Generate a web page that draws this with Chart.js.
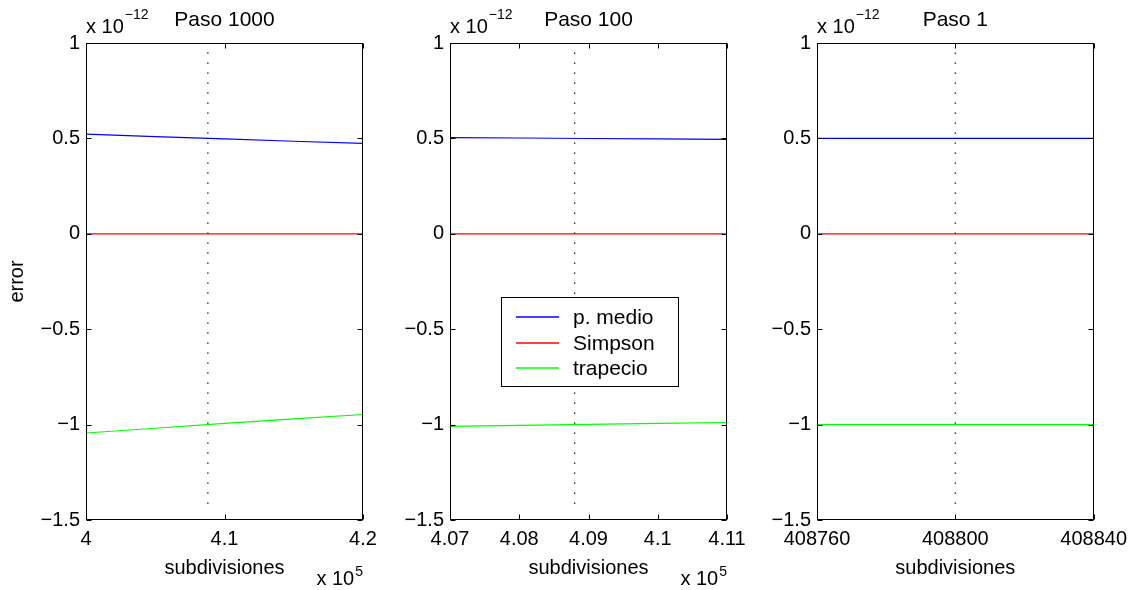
<!DOCTYPE html>
<html lang="es">
<head>
<meta charset="UTF-8">
<title>Error por subdivisiones</title>
<script src="https://cdn.jsdelivr.net/npm/chart.js"></script>
<style>
  body { margin: 0; background: #fff; }
  #fig { position: relative; width: 1134px; height: 590px; }
  #fig canvas { position: absolute; top: 0; }
</style>
</head>
<body>
<div id="fig">
  <canvas id="p1" width="403" height="590" style="left:0px"></canvas>
  <canvas id="p2" width="403" height="590" style="left:364px"></canvas>
  <canvas id="p3" width="403" height="590" style="left:731px"></canvas>
</div>
<script>
// datos (error en unidades de 1e-12)
const titulos = ["Paso 1000", "Paso 100", "Paso 1"];
const series = ["p. medio", "Simpson", "trapecio"];
const colores = ["#0000ff", "#ff0000", "#00ff00"];

const subdiv1 = [400000, 405000, 410000, 415000, 420000];
const medio1 = [0.522, 0.509, 0.497, 0.485, 0.474];
const simpson1 = [0, 0, 0, 0, 0];
const trapecio1 = [-1.044, -1.019, -0.994, -0.970, -0.947];

const subdiv2 = [407000, 408000, 409000, 410000, 411000];
const medio2 = [0.504, 0.502, 0.4995, 0.497, 0.495];
const simpson2 = [0, 0, 0, 0, 0];
const trapecio2 = [-1.009, -1.004, -0.999, -0.994, -0.989];

const subdiv3 = [408760, 408800, 408840];
const medio3 = [0.5, 0.5, 0.5];
const simpson3 = [0, 0, 0];
const trapecio3 = [-1, -1, -1];

// linea punteada vertical
const nRef = 408800;
const refY = [0.95, -1.45];

// ejes
const xRango1 = [400000, 420000];
const xRango2 = [407000, 411000];
const xRango3 = [408760, 408840];
const xTicks1 = [400000, 410000, 420000];
const xTicks2 = [407000, 408000, 409000, 410000, 411000];
const xTicks3 = [408760, 408800, 408840];
const xLabels1 = ["4", "4.1", "4.2"];
const xLabels2 = ["4.07", "4.08", "4.09", "4.1", "4.11"];
const xLabels3 = ["408760", "408800", "408840"];
const yTicks = [-1.5, -1, -0.5, 0, 0.5, 1];
const yLabels = ["\u22121.5", "\u22121", "\u22120.5", "0", "0.5", "1"];

const FAM = '"Liberation Sans", Arial, Helvetica, sans-serif';
Chart.defaults.font.family = FAM;
Chart.defaults.color = "#000";

const marco = {
    id: "marco",
    afterDatasetsDraw(chart, args, opts) {
        const ctx = chart.ctx;
        const a = chart.chartArea;
        const sx = chart.scales.x, sy = chart.scales.y;
        const L = Math.round(a.left) + 0.5, R = Math.round(a.right) - 0.5;
        const T = Math.round(a.top) + 0.5, B = Math.round(a.bottom) - 0.5;
        ctx.save();
        ctx.setLineDash([]);
        ctx.strokeStyle = "#000";
        ctx.lineWidth = 1;
        ctx.strokeRect(L, T, R - L, B - T);
        ctx.beginPath();
        opts.xt.forEach(v => {
            const px = Math.round(sx.getPixelForValue(v)) + 0.5;
            ctx.moveTo(px, B); ctx.lineTo(px, B - 5);
            ctx.moveTo(px, T); ctx.lineTo(px, T + 5);
        });
        yTicks.forEach(v => {
            const py = Math.round(sy.getPixelForValue(v)) + 0.5;
            ctx.moveTo(L, py); ctx.lineTo(L + 5, py);
            ctx.moveTo(R, py); ctx.lineTo(R - 5, py);
        });
        ctx.stroke();

        ctx.fillStyle = "#000";
        ctx.textBaseline = "alphabetic";
        // titulo
        ctx.font = "21px " + FAM;
        ctx.textAlign = "center";
        ctx.fillText(opts.titulo, (a.left + a.right) / 2, 26);
        // x 10^-12
        ctx.textAlign = "left";
        ctx.font = "20px " + FAM;
        ctx.fillText("x 10", a.left, 33);
        const w = ctx.measureText("x 10").width;
        ctx.font = "14px " + FAM;
        ctx.fillText("\u221212", a.left + w + 1, 19);
        // x 10^5
        if (opts.expX) {
            ctx.font = "20px " + FAM;
            const w1 = ctx.measureText("x 10").width;
            ctx.font = "14px " + FAM;
            const w2 = ctx.measureText(opts.expX).width;
            const x0 = a.right - w1 - w2 - 1;
            ctx.font = "20px " + FAM;
            ctx.fillText("x 10", x0, 585);
            ctx.font = "14px " + FAM;
            ctx.fillText(opts.expX, x0 + w1 + 1, 576);
        }
        // leyenda
        if (opts.leyenda) {
            const bx = Math.round(a.left + 51), by = Math.round(a.top + 254);
            ctx.fillStyle = "#fff";
            ctx.fillRect(bx, by, 178, 90);
            ctx.strokeStyle = "#000";
            ctx.strokeRect(bx + 0.5, by + 0.5, 177, 89);
            ctx.font = "21px " + FAM;
            ctx.textBaseline = "middle";
            series.forEach((nombre, i) => {
                const ry = Math.round(by + 20 + i * 25.5);
                ctx.beginPath();
                ctx.strokeStyle = colores[i];
                ctx.lineWidth = 1.5;
                ctx.moveTo(bx + 15, ry);
                ctx.lineTo(bx + 58, ry);
                ctx.stroke();
                ctx.fillStyle = "#000";
                ctx.fillText(nombre, bx + 72, ry + 1);
            });
        }
        ctx.restore();
    }
};

function panel(id, xs, vals, rango, xt, xl, titulo, expX, conEtiqueta, leyenda) {
    const datasets = vals.map((v, k) => ({
        label: series[k],
        data: xs.map((x, i) => ({ x: x, y: v[i] })),
        borderColor: colores[k],
        borderWidth: 1.2,
        pointRadius: 0,
        tension: 0,
        fill: false
    }));
    datasets.push({
        label: "ref",
        data: [{ x: nRef, y: refY[0] }, { x: nRef, y: refY[1] }],
        borderColor: "#000",
        borderWidth: 1.3,
        borderDash: [1.3, 8.7],
        pointRadius: 0,
        fill: false
    });
    return new Chart(document.getElementById(id), {
        type: "line",
        data: { datasets: datasets },
        options: {
            responsive: false,
            animation: false,
            devicePixelRatio: 1,
            layout: { padding: { left: 0, top: 43, right: 40, bottom: 0 } },
            plugins: {
                legend: { display: false },
                tooltip: { enabled: false },
                marco: { xt: xt, titulo: titulo, expX: expX, leyenda: leyenda }
            },
            scales: {
                x: {
                    type: "linear",
                    min: rango[0],
                    max: rango[1],
                    afterBuildTicks: s => { s.ticks = xt.map(v => ({ value: v })); },
                    afterFit: s => { s.height = 70; },
                    grid: { display: false, drawTicks: false },
                    border: { display: false },
                    ticks: {
                        autoSkip: false, maxRotation: 0, padding: 7,
                        font: { size: 20 }, color: "#000",
                        callback: (v, i) => xl[i]
                    },
                    title: {
                        display: true, text: "subdivisiones", color: "#000",
                        font: { size: 20 }, padding: { top: 0, bottom: 10 }
                    }
                },
                y: {
                    min: -1.5,
                    max: 1,
                    afterBuildTicks: s => { s.ticks = yTicks.map(v => ({ value: v })); },
                    afterFit: s => { s.width = 86; },
                    grid: { display: false, drawTicks: false },
                    border: { display: false },
                    ticks: {
                        padding: 6, font: { size: 20 }, color: "#000",
                        callback: (v, i) => yLabels[i]
                    },
                    title: {
                        display: conEtiqueta, text: "error", color: "#000",
                        font: { size: 20 }, padding: { top: 5, bottom: 0 }
                    }
                }
            }
        },
        plugins: [marco]
    });
}

panel("p1", subdiv1, [medio1, simpson1, trapecio1], xRango1, xTicks1, xLabels1, titulos[0], "5", true, false);
panel("p2", subdiv2, [medio2, simpson2, trapecio2], xRango2, xTicks2, xLabels2, titulos[1], "5", false, true);
panel("p3", subdiv3, [medio3, simpson3, trapecio3], xRango3, xTicks3, xLabels3, titulos[2], null, false, false);
</script>
</body>
</html>
